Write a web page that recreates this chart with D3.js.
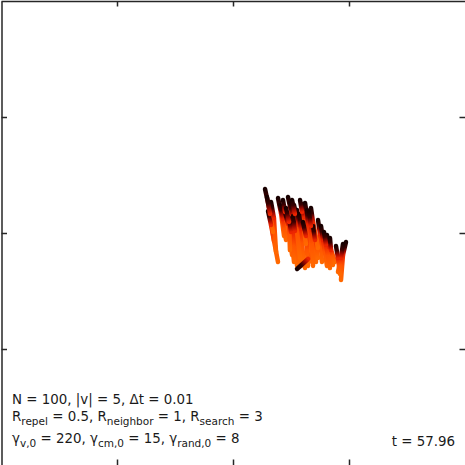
<!DOCTYPE html>
<html>
<head>
<meta charset="utf-8">
<script src="https://cdn.jsdelivr.net/npm/d3@7"></script>
<style>
  html, body { margin: 0; padding: 0; background: #fff; }
  svg { display: block; }
</style>
</head>
<body>
<svg id="chart" width="465" height="465"></svg>
<script>
// swarm trails at t = 57.96: newest position (head), an older one (mid), oldest (tail)
const headX = [2.76, 3.02, 3.28, 3.88, 4.05, 4.74, 4.91, 5.26, 5.52, 5.95, 6.21, 6.38, 4.48, 5.69, 5.17, 6.64,
               7.33, 7.59, 8.10, 8.36, 9.74, 9.48, 5.52, 6.90, 6.03, 4.83, 2.93, 4.31, 7.84, 5.78, 6.72, 8.88,
               5.09, 6.55, 4.57];
const headY = [3.79, 1.90, 2.67, 3.02, 2.41, 3.10, 2.59, 2.41, 1.98, 2.50, 2.59, 1.98, 1.81, 1.64, 1.47, 1.55,
               1.12, 0.60, -0.17, -0.43, -0.78, -0.95, -3.10, 0.60, 0.95, 1.29, 3.10, 2.84, 0.09, 2.84, 2.16, -1.12,
               2.84, 1.81, 2.16];
const midX  = [3.10, 3.28, 3.53, 4.14, 4.31, 5.00, 5.17, 5.52, 5.69, 6.12, 6.38, 6.47, 4.74, 5.86, 5.34, 6.81,
               7.50, 7.76, 8.28, 8.45, 9.48, 9.31, 6.47, 7.07, 6.29, 5.00, 3.19, 4.48, 8.02, 5.95, 6.90, 9.05,
               5.34, 6.72, 4.83];
const midY  = [2.24, 0.69, 1.29, 1.72, 1.21, 1.90, 1.38, 1.21, 0.69, 1.38, 1.47, 0.78, 0.78, 0.34, 0.17, 0.26,
               -0.09, -0.60, -1.21, -1.47, -1.90, -2.16, -2.24, -0.60, -0.26, 0.09, 1.64, 1.81, -1.03, 1.81, 0.95, -2.16,
               1.64, 0.60, 0.95];
const tailX = [3.53, 3.88, 3.71, 4.40, 4.57, 5.43, 5.60, 5.86, 6.21, 6.55, 6.81, 7.07, 5.09, 6.03, 5.52, 7.16,
               7.67, 8.10, 8.62, 8.79, 9.31, 9.05, 6.98, 7.33, 6.47, 5.26, 3.45, 4.83, 8.36, 6.29, 7.33, 9.22,
               5.78, 6.90, 4.91];
const tailY = [-0.69, -2.50, -1.64, -0.26, -0.60, -1.47, -2.50, -2.84, -3.02, -2.50, -2.16, -1.90, -1.90, -2.33, -2.84, -2.50,
               -2.50, -2.84, -2.76, -2.50, -4.05, -3.36, -1.47, -2.16, -2.84, -2.50, 0.09, 0.09, -3.02, -0.95, -1.29, -3.53,
               -2.16, -2.84, -1.47];

const tickValues = [-10, 0, 10];

// annotation text, pieces flagged 1 are subscripts
const paramLines = [
  [["N = 100, |v| = 5, \u0394t = 0.01", 0]],
  [["R", 0], ["repel", 1], [" = 0.5, R", 0], ["neighbor", 1], [" = 1, R", 0], ["search", 1], [" = 3", 0]],
  [["\u03b3", 0], ["v,0", 1], [" = 220, \u03b3", 0], ["cm,0", 1], [" = 15, \u03b3", 0], ["rand,0", 1], [" = 8", 0]]
];
const timeLabel = "t = 57.96";

const width = 465, height = 465;
const svg = d3.select("#chart");

const x = d3.scaleLinear().domain([-20, 20]).range([1, 465]);
const y = d3.scaleLinear().domain([-20, 20]).range([465, 1]);

// hot-style colours, oldest -> newest
const oldStops = [[0, "#ff6800"], [0.55, "#ff5400"], [1, "#ec2400"]];
const newStops = [[0, "#ec2400"], [0.3, "#a00800"], [0.6, "#3a0000"], [1, "#180000"]];

const particles = headX.map((_, i) => ({
  i,
  head: [x(headX[i]), y(headY[i])],
  mid: [x(midX[i]), y(midY[i])],
  tail: [x(tailX[i]), y(tailY[i])]
}));

const defs = svg.append("defs");

function addGradient(id, from, to, stops) {
  const g = defs.append("linearGradient")
      .attr("id", id)
      .attr("gradientUnits", "userSpaceOnUse")
      .attr("x1", from[0]).attr("y1", from[1])
      .attr("x2", to[0]).attr("y2", to[1]);
  stops.forEach(([o, c]) => g.append("stop").attr("offset", o).attr("stop-color", c));
}

particles.forEach(p => {
  addGradient("old" + p.i, p.tail, p.mid, oldStops);
  addGradient("new" + p.i, p.mid, p.head, newStops);
});

const line = d3.line();
const trailWidth = 4.5;

// older parts first, newer parts drawn on top
svg.append("g")
    .attr("fill", "none")
    .attr("stroke-width", trailWidth)
    .attr("stroke-linecap", "round")
    .selectAll("path")
    .data(particles)
    .join("path")
    .attr("d", d => line([d.tail, d.mid]))
    .attr("stroke", d => `url(#old${d.i})`);

svg.append("g")
    .attr("fill", "none")
    .attr("stroke-width", trailWidth)
    .attr("stroke-linecap", "round")
    .selectAll("path")
    .data(particles)
    .join("path")
    .attr("d", d => line([d.mid, d.head]))
    .attr("stroke", d => `url(#new${d.i})`);

// axes box: only left and top edge are inside the picture
const axisColor = "#262626";

function styleAxis(g, keepDomain) {
  g.attr("color", axisColor).attr("stroke-width", 1.5);
  if (!keepDomain) g.select(".domain").remove();
  g.selectAll("text").remove();
}

svg.append("g")
    .attr("transform", "translate(1.5,0)")
    .call(d3.axisLeft(y).tickValues(tickValues).tickSize(-5.5).tickSizeOuter(0).tickFormat(""))
    .call(g => styleAxis(g, true));

svg.append("g")
    .attr("transform", "translate(0,1)")
    .call(d3.axisTop(x).tickValues(tickValues).tickSize(-5.5).tickSizeOuter(0).tickFormat(""))
    .call(g => styleAxis(g, true));

svg.append("g")
    .attr("transform", `translate(${width},0)`)
    .call(d3.axisRight(y).tickValues(tickValues).tickSize(-5.5).tickSizeOuter(0).tickFormat(""))
    .call(g => styleAxis(g, false));

svg.append("g")
    .attr("transform", `translate(0,${height})`)
    .call(d3.axisBottom(x).tickValues(tickValues).tickSize(-5.5).tickSizeOuter(0).tickFormat(""))
    .call(g => styleAxis(g, false));

// annotations
const fontFamily = "'DejaVu Sans', sans-serif";
const baselines = [404, 421, 443];
const mainSize = 13.4, subSize = 10.5;

paramLines.forEach((pieces, k) => {
  const t = svg.append("text")
      .attr("x", 12)
      .attr("y", baselines[k])
      .attr("font-family", fontFamily)
      .attr("font-size", mainSize)
      .attr("fill", "#1a1a1a");
  let shifted = false;
  pieces.forEach(([str, sub]) => {
    const span = t.append("tspan").text(str);
    if (sub && !shifted) { span.attr("dy", 4).attr("font-size", subSize); shifted = true; }
    else if (sub) { span.attr("font-size", subSize); }
    else if (shifted) { span.attr("dy", -4); shifted = false; }
  });
});

svg.append("text")
    .attr("x", 455)
    .attr("y", 446)
    .attr("text-anchor", "end")
    .attr("font-family", fontFamily)
    .attr("font-size", mainSize)
    .attr("fill", "#1a1a1a")
    .text(timeLabel);
</script>
</body>
</html>
